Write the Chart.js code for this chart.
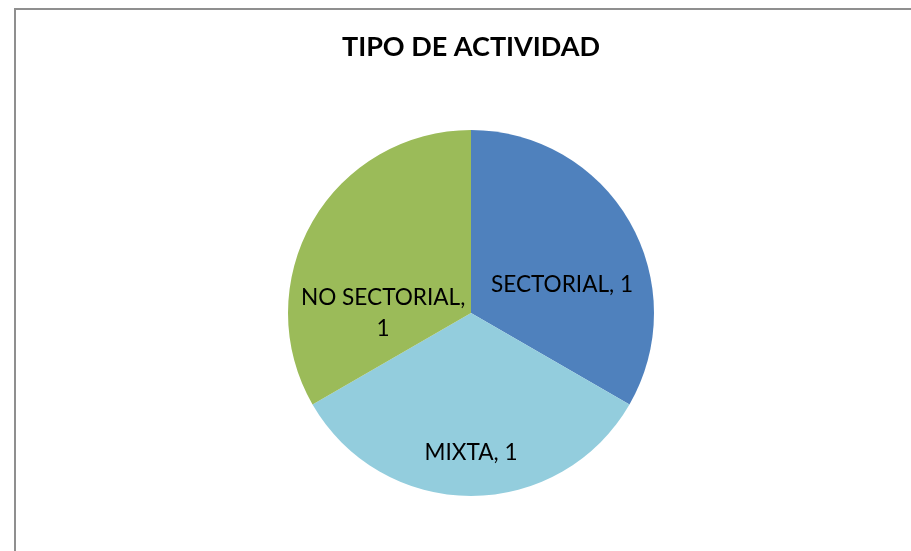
<!DOCTYPE html>
<html>
<head>
<meta charset="utf-8">
<script src="https://cdn.jsdelivr.net/npm/chart.js@4/dist/chart.umd.min.js"></script>
<style>
  html, body { margin: 0; padding: 0; background: #fff; overflow: hidden; }
  #wrap { position: relative; width: 911px; height: 551px; }
  #c { position: absolute; left: 0; top: 0; }
  #frame { position: absolute; left: 14px; top: 8px; width: 920px; height: 560px;
           border-left: 2px solid #8f8f8f; border-top: 2px solid #8f8f8f; pointer-events: none; }
</style>
</head>
<body>
<div id="wrap">
  <canvas id="c" width="911" height="551"></canvas>
  <div id="frame"></div>
</div>
<script>
const chartTitle = 'TIPO DE ACTIVIDAD';
const categories = ['SECTORIAL', 'MIXTA', 'NO SECTORIAL'];
const values = [1, 1, 1];
const sliceColors = ['#4F81BD', '#93CDDD', '#9BBB59'];

// label placement styling: [radius fraction, angle offset in degrees]
const labelPlacement = [[0.52, 13], [0.765, 0], [0.48, -30]];
const labelLines = [
  [categories[0] + ', ' + values[0]],
  [categories[1] + ', ' + values[1]],
  [categories[2] + ',', String(values[2])]
];

const labelPlugin = {
  id: 'sliceLabels',
  afterDatasetsDraw(chart) {
    const ctx = chart.ctx;
    const meta = chart.getDatasetMeta(0);
    ctx.save();
    ctx.font = '22.6px Lato';
    ctx.fillStyle = '#000';
    ctx.textAlign = 'center';
    ctx.textBaseline = 'middle';
    meta.data.forEach((arc, i) => {
      const p = arc.getProps(['x', 'y', 'startAngle', 'endAngle', 'outerRadius'], true);
      const mid = (p.startAngle + p.endAngle) / 2 + labelPlacement[i][1] * Math.PI / 180;
      const r = p.outerRadius * labelPlacement[i][0];
      const cx = p.x + Math.cos(mid) * r;
      const cy = p.y + Math.sin(mid) * r;
      const lines = labelLines[i];
      const lh = 31;
      const y0 = cy - (lines.length - 1) * lh / 2;
      lines.forEach((t, k) => ctx.fillText(t, cx, y0 + k * lh));
    });
    ctx.restore();
  }
};

new Chart(document.getElementById('c'), {
  type: 'pie',
  data: {
    labels: categories,
    datasets: [{
      data: values,
      backgroundColor: sliceColors,
      borderWidth: 0,
      hoverOffset: 0
    }]
  },
  options: {
    responsive: false,
    animation: false,
    layout: { padding: { left: 31, right: 0, top: 0, bottom: 55 } },
    plugins: {
      legend: { display: false },
      tooltip: { enabled: false },
      title: {
        display: true,
        text: chartTitle,
        color: '#000',
        font: { family: 'Lato', size: 27, weight: 'bold' },
        padding: { top: 31, bottom: 66.6 }
      }
    }
  },
  plugins: [labelPlugin]
});
</script>
</body>
</html>
